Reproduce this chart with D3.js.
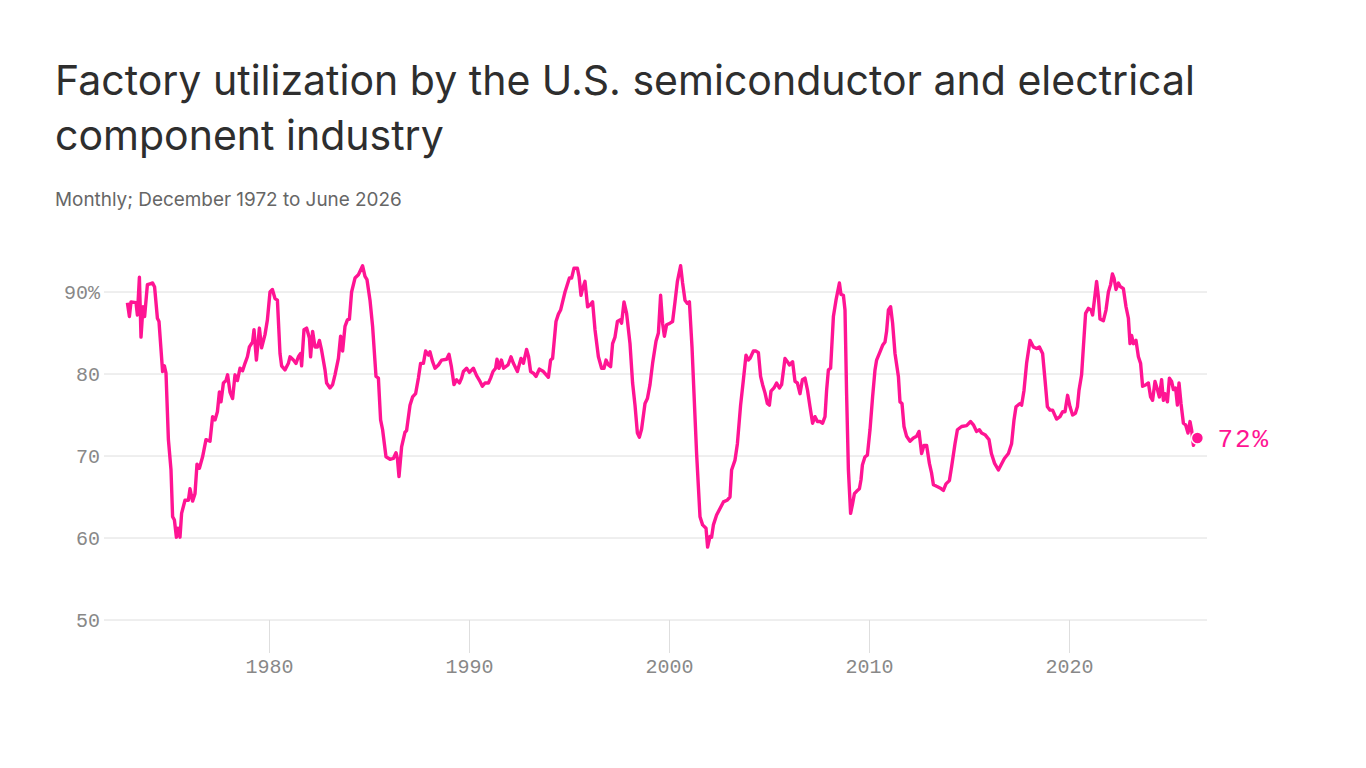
<!DOCTYPE html>
<html>
<head>
<meta charset="utf-8">
<script src="https://cdn.jsdelivr.net/npm/d3@7"></script>
<style>
  body { margin: 0; background: #fff; }
  #chart { width: 1366px; height: 768px; }
</style>
</head>
<body>
<div id="chart"></div>
<script>
// monthly utilization (%): [decimal year, value]
const series = [
  [1972.92, 88.7], [1973.02, 87.0], [1973.1, 88.8], [1973.35, 88.7], [1973.42, 87.2],
  [1973.52, 91.8], [1973.6, 84.5], [1973.7, 88.2], [1973.78, 87.0], [1973.92, 90.9],
  [1974.05, 91.0], [1974.18, 91.1], [1974.28, 90.6], [1974.42, 86.8], [1974.5, 86.4],
  [1974.68, 80.3], [1974.77, 81.0], [1974.85, 80.1], [1974.97, 72.0], [1975.1, 68.3],
  [1975.18, 62.6], [1975.27, 62.2], [1975.37, 60.1], [1975.45, 61.2], [1975.55, 60.1],
  [1975.63, 63.0], [1975.8, 64.6], [1975.97, 64.6], [1976.05, 66.0], [1976.18, 64.5],
  [1976.3, 65.4], [1976.4, 69.0], [1976.52, 68.5], [1976.68, 69.9], [1976.85, 72.0],
  [1977.05, 71.8], [1977.18, 74.8], [1977.3, 74.4], [1977.42, 75.4], [1977.52, 77.8],
  [1977.6, 76.6], [1977.72, 78.9], [1977.85, 79.2], [1977.93, 79.9], [1978.05, 77.8],
  [1978.18, 77.0], [1978.3, 79.9], [1978.42, 79.2], [1978.55, 80.7], [1978.68, 80.4],
  [1978.8, 81.3], [1978.92, 82.1], [1979.02, 83.3], [1979.18, 83.9], [1979.25, 85.4],
  [1979.37, 81.7], [1979.52, 85.6], [1979.63, 83.2], [1979.8, 84.8], [1979.92, 86.6],
  [1980.05, 90.0], [1980.17, 90.3], [1980.3, 89.2], [1980.42, 89.0], [1980.55, 82.5],
  [1980.63, 81.0], [1980.8, 80.5], [1980.97, 81.3], [1981.05, 82.1], [1981.22, 81.7],
  [1981.35, 81.3], [1981.47, 82.1], [1981.58, 82.5], [1981.63, 81.0], [1981.75, 85.4],
  [1981.88, 85.6], [1982.02, 84.4], [1982.08, 82.1], [1982.18, 85.2], [1982.3, 83.3],
  [1982.42, 83.3], [1982.52, 84.1], [1982.63, 82.9], [1982.8, 80.5], [1982.88, 78.9],
  [1983.05, 78.3], [1983.18, 78.7], [1983.3, 79.9], [1983.47, 81.9], [1983.58, 84.6],
  [1983.68, 82.8], [1983.8, 85.8], [1983.92, 86.6], [1984.02, 86.7], [1984.13, 90.0],
  [1984.3, 91.7], [1984.47, 92.1], [1984.68, 93.2], [1984.8, 91.9], [1984.9, 91.5],
  [1985.05, 89.0], [1985.18, 85.8], [1985.35, 79.7], [1985.47, 79.5], [1985.58, 74.4],
  [1985.68, 73.2], [1985.85, 69.9], [1986.05, 69.6], [1986.22, 69.7], [1986.35, 70.4],
  [1986.42, 69.7], [1986.5, 67.5], [1986.63, 71.1], [1986.8, 72.9], [1986.88, 73.1],
  [1987.05, 76.2], [1987.18, 77.2], [1987.33, 77.6], [1987.47, 79.5], [1987.58, 81.3],
  [1987.72, 81.3], [1987.83, 82.8], [1987.97, 82.3], [1988.05, 82.7], [1988.18, 81.5],
  [1988.3, 80.7], [1988.47, 81.1], [1988.63, 81.7], [1988.88, 81.8], [1989.0, 82.4],
  [1989.12, 80.9], [1989.25, 78.7], [1989.38, 79.3], [1989.52, 78.9], [1989.63, 79.5],
  [1989.72, 80.3], [1989.88, 80.7], [1990.02, 80.2], [1990.22, 80.7], [1990.38, 79.8],
  [1990.55, 79.1], [1990.67, 78.5], [1990.8, 78.9], [1990.97, 78.9], [1991.08, 79.5],
  [1991.2, 80.3], [1991.33, 80.7], [1991.4, 81.8], [1991.5, 80.7], [1991.62, 81.7],
  [1991.73, 80.7], [1991.95, 81.1], [1992.1, 82.1], [1992.22, 81.3], [1992.42, 80.3],
  [1992.6, 81.9], [1992.72, 81.3], [1992.88, 83.0], [1992.98, 82.1], [1993.08, 80.3],
  [1993.22, 80.1], [1993.35, 79.7], [1993.52, 80.6], [1993.72, 80.3], [1993.97, 79.6],
  [1994.08, 81.7], [1994.18, 81.9], [1994.35, 86.4], [1994.47, 87.3], [1994.58, 87.8],
  [1994.8, 90.0], [1995.02, 91.7], [1995.13, 91.7], [1995.25, 92.9], [1995.42, 92.9],
  [1995.5, 91.9], [1995.6, 89.6], [1995.68, 90.4], [1995.8, 91.3], [1995.93, 88.2],
  [1996.05, 88.4], [1996.18, 88.8], [1996.3, 85.4], [1996.47, 82.1], [1996.63, 80.7],
  [1996.75, 80.7], [1996.85, 81.7], [1996.97, 81.1], [1997.08, 80.9], [1997.18, 83.7],
  [1997.3, 84.5], [1997.42, 86.4], [1997.55, 86.6], [1997.63, 86.2], [1997.75, 88.8],
  [1997.88, 87.4], [1998.05, 83.7], [1998.18, 78.9], [1998.3, 76.2], [1998.42, 72.8],
  [1998.52, 72.3], [1998.63, 73.3], [1998.8, 76.4], [1998.92, 77.0], [1999.05, 78.7],
  [1999.18, 81.3], [1999.35, 84.0], [1999.47, 85.0], [1999.58, 89.6], [1999.68, 86.2],
  [1999.77, 84.6], [1999.88, 86.0], [2000.05, 86.2], [2000.18, 86.4], [2000.3, 88.8],
  [2000.42, 91.3], [2000.58, 93.2], [2000.68, 91.1], [2000.8, 89.0], [2000.92, 88.6],
  [2001.02, 88.8], [2001.15, 83.3], [2001.25, 77.6], [2001.38, 70.3], [2001.55, 62.6],
  [2001.68, 61.6], [2001.85, 61.2], [2001.93, 58.9], [2002.05, 60.2], [2002.13, 60.1],
  [2002.22, 61.6], [2002.38, 62.8], [2002.55, 63.6], [2002.72, 64.4], [2002.9, 64.6],
  [2003.05, 65.0], [2003.13, 68.3], [2003.3, 69.5], [2003.42, 71.5], [2003.58, 76.2],
  [2003.72, 79.3], [2003.85, 82.3], [2003.97, 81.7], [2004.05, 81.9], [2004.22, 82.8],
  [2004.35, 82.8], [2004.47, 82.6], [2004.58, 79.7], [2004.68, 78.7], [2004.8, 77.7],
  [2004.92, 76.4], [2005.02, 76.2], [2005.1, 77.9], [2005.25, 78.3], [2005.38, 78.9],
  [2005.52, 78.3], [2005.63, 78.7], [2005.8, 81.9], [2005.92, 81.5], [2006.02, 81.1],
  [2006.18, 81.5], [2006.3, 79.1], [2006.42, 78.9], [2006.55, 77.6], [2006.67, 79.3],
  [2006.8, 79.5], [2006.92, 78.1], [2007.05, 76.0], [2007.18, 74.0], [2007.3, 74.8],
  [2007.42, 74.2], [2007.55, 74.2], [2007.68, 74.0], [2007.8, 74.8], [2007.88, 78.0],
  [2007.97, 80.5], [2008.08, 80.7], [2008.22, 87.0], [2008.35, 89.0], [2008.52, 91.1],
  [2008.6, 89.7], [2008.72, 89.6], [2008.8, 87.8], [2008.88, 77.6], [2008.97, 68.3],
  [2009.08, 63.0], [2009.18, 64.2], [2009.27, 65.4], [2009.38, 65.7], [2009.52, 66.0],
  [2009.6, 67.1], [2009.67, 68.9], [2009.8, 69.9], [2009.92, 70.1], [2010.05, 73.2],
  [2010.18, 77.2], [2010.3, 80.5], [2010.38, 81.7], [2010.55, 82.7], [2010.68, 83.5],
  [2010.8, 83.9], [2010.88, 85.2], [2010.97, 87.8], [2011.08, 88.2], [2011.18, 86.2],
  [2011.3, 82.5], [2011.47, 79.7], [2011.55, 76.6], [2011.65, 76.4], [2011.75, 73.6],
  [2011.88, 72.4], [2012.05, 71.8], [2012.22, 72.2], [2012.38, 72.4], [2012.5, 73.0],
  [2012.63, 70.3], [2012.75, 71.3], [2012.88, 71.3], [2013.02, 69.1], [2013.13, 67.9],
  [2013.22, 66.5], [2013.38, 66.3], [2013.55, 66.1], [2013.72, 65.8], [2013.85, 66.6],
  [2014.02, 67.0], [2014.13, 68.7], [2014.3, 71.5], [2014.42, 73.2], [2014.63, 73.6],
  [2014.88, 73.7], [2015.08, 74.2], [2015.22, 73.8], [2015.38, 73.0], [2015.52, 73.2],
  [2015.63, 72.8], [2015.8, 72.6], [2016.0, 72.0], [2016.12, 70.3], [2016.28, 69.1],
  [2016.47, 68.3], [2016.6, 68.9], [2016.77, 69.7], [2016.97, 70.3], [2017.13, 71.5],
  [2017.25, 74.4], [2017.35, 76.0], [2017.55, 76.4], [2017.63, 76.2], [2017.75, 78.0],
  [2017.88, 81.3], [2018.05, 84.1], [2018.22, 83.3], [2018.38, 83.1], [2018.52, 83.3],
  [2018.68, 82.5], [2018.8, 79.3], [2018.92, 76.0], [2019.05, 75.6], [2019.18, 75.6],
  [2019.38, 74.5], [2019.55, 74.8], [2019.68, 75.4], [2019.8, 75.4], [2019.93, 77.4],
  [2020.05, 76.0], [2020.18, 75.0], [2020.32, 75.2], [2020.42, 76.0], [2020.5, 78.0],
  [2020.63, 79.9], [2020.72, 83.3], [2020.83, 87.4], [2020.97, 88.0], [2021.1, 87.8],
  [2021.18, 87.2], [2021.3, 89.6], [2021.38, 91.3], [2021.47, 89.4], [2021.55, 86.7],
  [2021.72, 86.5], [2021.85, 87.8], [2021.97, 90.0], [2022.08, 90.9], [2022.17, 92.2],
  [2022.25, 91.7], [2022.35, 90.3], [2022.47, 91.1], [2022.55, 90.7], [2022.72, 90.4],
  [2022.85, 88.2], [2022.97, 86.8], [2023.05, 83.7], [2023.13, 84.7], [2023.22, 83.7],
  [2023.35, 84.1], [2023.47, 82.1], [2023.58, 81.3], [2023.68, 78.5], [2023.85, 78.7],
  [2023.97, 78.9], [2024.08, 77.2], [2024.18, 76.8], [2024.3, 79.1], [2024.42, 78.1],
  [2024.52, 77.2], [2024.63, 79.3], [2024.72, 76.8], [2024.8, 77.6], [2024.92, 76.6],
  [2025.02, 79.5], [2025.13, 79.1], [2025.22, 78.1], [2025.33, 78.3], [2025.42, 76.2],
  [2025.5, 78.9], [2025.6, 76.4], [2025.72, 74.0], [2025.83, 73.8], [2025.95, 72.8],
  [2026.05, 74.2], [2026.13, 73.2], [2026.22, 71.3], [2026.32, 71.9], [2026.42, 72.2]
];

const yTicks = [50, 60, 70, 80, 90];
const xTicks = [1980, 1990, 2000, 2010, 2020];
const titleLines = [
  "Factory utilization by the U.S. semiconductor and electrical",
  "component industry"
];
const subtitle = "Monthly; December 1972 to June 2026";
const lastLabel = "72%";

const pink = "#ff1493";
const monoFont = "'Liberation Mono', 'DejaVu Sans Mono', monospace";
const W = 1366, H = 768;

const svg = d3.select("#chart").append("svg")
  .attr("width", W)
  .attr("height", H);

const x = d3.scaleLinear().domain([1980, 2020]).range([269, 1069]);
const y = d3.scaleLinear().domain([50, 90]).range([620, 292]);

// title
const title = svg.append("text")
  .attr("x", 55)
  .attr("font-family", "Inter, 'Noto Sans', sans-serif")
  .attr("font-size", 40)
  .attr("fill", "#2e2e2e");
titleLines.forEach((t, i) => {
  title.append("tspan").attr("x", 55).attr("y", 95 + i * 55).text(t);
});
// fit first line to the reference width
const firstW = title.select("tspan").node().getComputedTextLength();
title.attr("font-size", 40 * 1140 / firstW);

const sub = svg.append("text")
  .attr("x", 55)
  .attr("y", 206)
  .attr("font-family", "Inter, 'Noto Sans', sans-serif")
  .attr("font-size", 19)
  .attr("fill", "#666")
  .text(subtitle);
const subW = sub.node().getComputedTextLength();
sub.attr("font-size", 19 * 347 / subW);

// grid
svg.append("g")
  .selectAll("line")
  .data(yTicks)
  .join("line")
  .attr("x1", 104)
  .attr("x2", 1207)
  .attr("y1", d => y(d))
  .attr("y2", d => y(d))
  .attr("stroke", "#dedede")
  .attr("stroke-width", 1);

svg.append("g")
  .selectAll("text")
  .data(yTicks)
  .join("text")
  .attr("x", 100)
  .attr("y", d => y(d) + 7)
  .attr("text-anchor", "end")
  .attr("font-family", monoFont)
  .attr("font-size", 20)
  .attr("fill", "#888")
  .text(d => d === 90 ? d + "%" : d);

// x axis
const xAxis = svg.append("g")
  .attr("transform", `translate(0,${y(50)})`)
  .call(d3.axisBottom(x).tickValues(xTicks).tickFormat(d3.format("d")).tickSize(33).tickPadding(6));
xAxis.select(".domain").remove();
xAxis.selectAll(".tick line").attr("stroke", "#dedede");
xAxis.selectAll(".tick text")
  .attr("font-family", monoFont)
  .attr("font-size", 20)
  .attr("fill", "#888");

// line
const line = d3.line()
  .x(d => x(d[0]))
  .y(d => y(d[1]));

svg.append("path")
  .datum(series)
  .attr("d", line)
  .attr("fill", "none")
  .attr("stroke", pink)
  .attr("stroke-width", 3.4)
  .attr("stroke-linejoin", "round");

const last = series[series.length - 1];
svg.append("circle")
  .attr("cx", x(last[0]))
  .attr("cy", y(last[1]))
  .attr("r", 6)
  .attr("fill", pink)
  .attr("stroke", "#fff")
  .attr("stroke-width", 1.5);

svg.append("text")
  .attr("x", x(last[0]) + 20)
  .attr("y", y(last[1]) + 9)
  .attr("font-family", monoFont)
  .attr("font-size", 26)
  .attr("letter-spacing", 2)
  .attr("fill", pink)
  .text(lastLabel);
</script>
</body>
</html>
